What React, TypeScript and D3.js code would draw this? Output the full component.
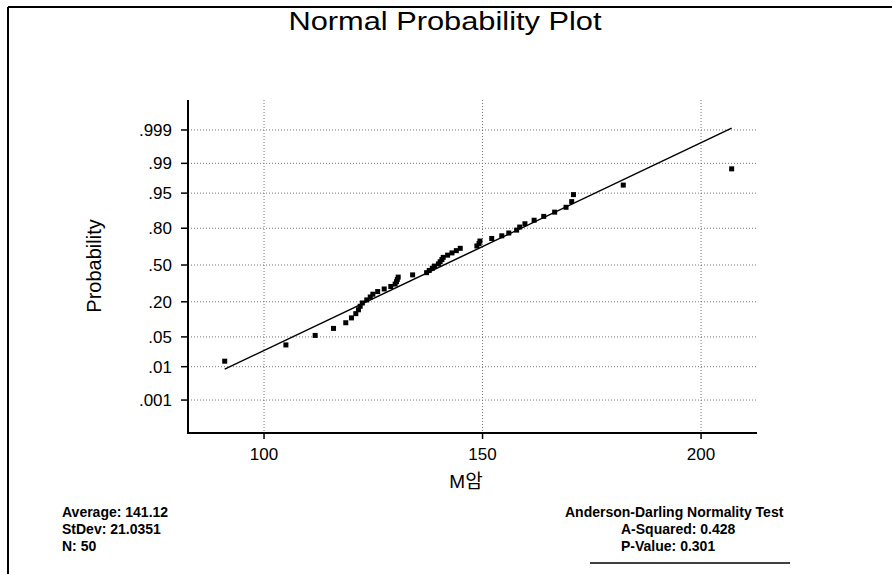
import React from 'react';
import * as d3 from 'd3';

// sorted sample values (M암)
const values = [
  91, 105, 111.7, 115.9, 118.7, 120, 121, 121.6, 122, 122.5,
  123.5, 124.3, 124.9, 126, 127.5, 129, 130, 130.3, 130.5, 130.7,
  134, 137.2, 137.8, 138.5, 139, 139.9, 140.3, 140.7, 141, 142,
  143, 144, 144.9, 148.7, 149.2, 149.4, 152.1, 154.4, 156, 157.8,
  158.5, 159.7, 161.8, 164, 166.5, 169.1, 170.4, 170.8, 182.2, 207,
];

const probTicks = [0.999, 0.99, 0.95, 0.8, 0.5, 0.2, 0.05, 0.01, 0.001];
const probLabels = ['.999', '.99', '.95', '.80', '.50', '.20', '.05', '.01', '.001'];
const xTicks = [100, 150, 200];

const fitMean = 141.12;
const fitSd = 21.0351;

const statsLeft = ['Average: 141.12', 'StDev: 21.0351', 'N: 50'];
const statsRight = ['A-Squared: 0.428', 'P-Value: 0.301'];

// inverse normal cdf (Acklam)
function probit(p: number): number {
  const a = [-39.69683028665376, 220.9460984245205, -275.9285104469687, 138.357751867269, -30.66479806614716, 2.506628277459239];
  const b = [-54.47609879822406, 161.5858368580409, -155.6989798598866, 66.80131188771972, -13.28068155288572];
  const c = [-0.007784894002430293, -0.3223964580411365, -2.400758277161838, -2.549732539343734, 4.374664141464968, 2.938163982698783];
  const d = [0.007784695709041462, 0.3224671290700398, 2.445134137142996, 3.754408661907416];
  const pl = 0.02425;
  if (p < pl) {
    const q = Math.sqrt(-2 * Math.log(p));
    return (((((c[0] * q + c[1]) * q + c[2]) * q + c[3]) * q + c[4]) * q + c[5]) /
      ((((d[0] * q + d[1]) * q + d[2]) * q + d[3]) * q + 1);
  }
  if (p > 1 - pl) {
    const q = Math.sqrt(-2 * Math.log(1 - p));
    return -(((((c[0] * q + c[1]) * q + c[2]) * q + c[3]) * q + c[4]) * q + c[5]) /
      ((((d[0] * q + d[1]) * q + d[2]) * q + d[3]) * q + 1);
  }
  const q = p - 0.5;
  const r = q * q;
  return (((((a[0] * r + a[1]) * r + a[2]) * r + a[3]) * r + a[4]) * r + a[5]) * q /
    (((((b[0] * r + b[1]) * r + b[2]) * r + b[3]) * r + b[4]) * r + 1);
}

const FONT = "'Liberation Sans', Arial, sans-serif";

export default function App() {
  const W = 892, H = 574;
  const left = 188, right = 757, top = 100, bottom = 433;

  const x = d3.scaleLinear().domain([82.6, 212.8]).range([left, right]);
  const y = d3.scaleLinear().domain([-3.844, 3.776]).range([bottom, top]);

  const n = values.length;
  // median-rank plotting positions
  const pts = values.map((v, i) => ({ v, z: probit((i + 1 - 0.3) / (n + 0.4)) }));

  const xMin = d3.min(values) as number;
  const xMax = d3.max(values) as number;
  const line = d3.line<number>()
    .x((v) => x(v))
    .y((v) => y((v - fitMean) / fitSd));

  return (
    <svg width={W} height={H} style={{ position: 'absolute', left: 0, top: 0, background: '#fff' }}>
      {/* frame */}
      <line x1={8} y1={7} x2={W} y2={7} stroke="#000" strokeWidth={2} />
      <line x1={8} y1={7} x2={8} y2={H} stroke="#000" strokeWidth={2} />
      <line x1={590} y1={563} x2={790} y2={563} stroke="#000" strokeWidth={1.5} />

      <text x={445} y={30} textAnchor="middle" fontFamily={FONT} fontSize={26}
        textLength={313} lengthAdjust="spacingAndGlyphs">Normal Probability Plot</text>

      {/* grid */}
      {probTicks.map((p) => (
        <line key={'h' + p} x1={left} x2={right} y1={y(probit(p))} y2={y(probit(p))}
          stroke="#777" strokeWidth={1} strokeDasharray="1,2" />
      ))}
      {xTicks.map((t) => (
        <line key={'v' + t} x1={x(t)} x2={x(t)} y1={top} y2={bottom}
          stroke="#777" strokeWidth={1} strokeDasharray="1,2" />
      ))}

      {/* axes */}
      <line x1={left} y1={top} x2={left} y2={bottom + 1} stroke="#000" strokeWidth={2} />
      <line x1={left} y1={bottom} x2={right} y2={bottom} stroke="#000" strokeWidth={2} />
      {probTicks.map((p, i) => (
        <g key={'yt' + p}>
          <line x1={left - 7} x2={left} y1={y(probit(p))} y2={y(probit(p))} stroke="#000" strokeWidth={1.5} />
          <text x={172} y={y(probit(p)) + 6} textAnchor="end" fontFamily={FONT} fontSize={17}>{probLabels[i]}</text>
        </g>
      ))}
      {xTicks.map((t) => (
        <g key={'xt' + t}>
          <line x1={x(t)} x2={x(t)} y1={bottom} y2={bottom + 6} stroke="#000" strokeWidth={1.5} />
          <text x={x(t)} y={460} textAnchor="middle" fontFamily={FONT} fontSize={17}>{t}</text>
        </g>
      ))}

      <text transform="translate(101,266) rotate(-90)" textAnchor="middle" fontFamily={FONT} fontSize={20}>Probability</text>
      <text x={466} y={488} textAnchor="middle" fontFamily={"'Liberation Sans', 'Noto Sans CJK KR', sans-serif"} fontSize={19}>M암</text>

      {/* fitted line */}
      <path d={line([xMin, xMax]) || ''} fill="none" stroke="#000" strokeWidth={1.5} />

      {/* points */}
      {pts.map((d, i) => (
        <rect key={i} x={x(d.v) - 2.5} y={y(d.z) - 2.5} width={5} height={5} fill="#000" />
      ))}

      {/* stats */}
      {statsLeft.map((s, i) => (
        <text key={s} x={62} y={517 + i * 17} fontFamily={FONT} fontSize={14} fontWeight="bold">{s}</text>
      ))}
      <text x={565} y={517} fontFamily={FONT} fontSize={14} fontWeight="bold">Anderson-Darling Normality Test</text>
      {statsRight.map((s, i) => (
        <text key={s} x={621} y={534 + i * 17} fontFamily={FONT} fontSize={14} fontWeight="bold">{s}</text>
      ))}
    </svg>
  );
}
